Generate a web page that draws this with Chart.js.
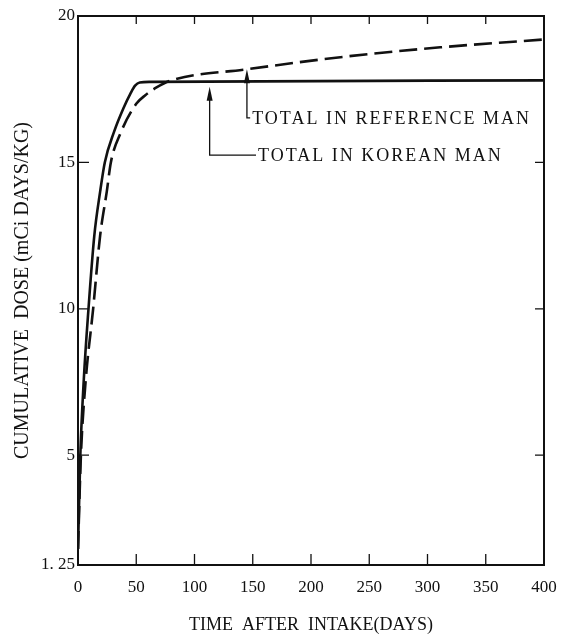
<!DOCTYPE html>
<html>
<head>
<meta charset="utf-8">
<script src="https://cdn.jsdelivr.net/npm/chart.js@4/dist/chart.umd.min.js"></script>
<style>
  html, body { margin: 0; padding: 0; background: #fff; }
  #dose-chart { display: block; }
</style>
</head>
<body>
<canvas id="dose-chart" width="569" height="636"></canvas>
<script>
// Số liệu
const koreanDays = [0, 2, 5, 9, 14, 19, 23, 31, 39, 45, 49, 53, 62, 400];
const koreanDose = [1.8, 5, 7.6, 10, 12.5, 14, 15, 16.05, 16.85, 17.35, 17.62, 17.73, 17.75, 17.8];

const referenceDays = [0, 2.5, 6.5, 13, 19, 24.7, 28.2, 36.5, 50, 58, 67, 78.5, 145, 231, 311, 400];
const referenceDose = [1.8, 5, 7.5, 10, 12.5, 14, 15, 16, 17, 17.3, 17.55, 17.78, 18.18, 18.62, 18.93, 19.2];

const xTicks = [0, 50, 100, 150, 200, 250, 300, 350, 400];
const yTicks = [1.25, 5, 10, 15, 20];
const yTickLabels = ['1. 25', '5', '10', '15', '20'];

const annotationTexts = ['TOTAL IN REFERENCE MAN', 'TOTAL IN KOREAN MAN'];
const annotationDays = [145, 113];      // vị trí mũi tên
const annotationTips = [18.18, 17.58];  // đầu mũi tên
const annotationElbows = [16.52, 15.25];
const annotationTextDays = [149.5, 154.5];

const INK = '#111';
const SERIF = "'Liberation Serif', 'Times New Roman', serif";

function toPoints(days, values) {
    return days.map((d, i) => ({ x: d, y: values[i] }));
}

// Khung, vạch chia bên trong và chú thích mũi tên
const framePlugin = {
    id: 'frame',
    afterDatasetsDraw(chart) {
        const { ctx, chartArea: a, scales: { x, y } } = chart;
        ctx.save();
        ctx.strokeStyle = INK;
        ctx.lineWidth = 2;
        ctx.strokeRect(a.left, a.top, a.right - a.left, a.bottom - a.top);

        ctx.lineWidth = 1.3;
        ctx.beginPath();
        xTicks.forEach(v => {
            if (v === 0 || v === 400) return;
            const px = x.getPixelForValue(v);
            ctx.moveTo(px, a.bottom);
            ctx.lineTo(px, a.bottom - 11);
            ctx.moveTo(px, a.top);
            ctx.lineTo(px, a.top + 8);
        });
        yTicks.forEach(v => {
            if (v === 20) return;
            const py = y.getPixelForValue(v);
            ctx.moveTo(a.left, py);
            ctx.lineTo(a.left + 11, py);
            if (v !== 1.25) {
                ctx.moveTo(a.right, py);
                ctx.lineTo(a.right - 9, py);
            }
        });
        ctx.stroke();

        ctx.font = '18px ' + SERIF;
        ctx.letterSpacing = '2px';
        ctx.textBaseline = 'middle';
        ctx.fillStyle = INK;
        annotationTexts.forEach((text, i) => {
            const px = x.getPixelForValue(annotationDays[i]);
            const tip = y.getPixelForValue(annotationTips[i]);
            const elbow = y.getPixelForValue(annotationElbows[i]);
            const tx = x.getPixelForValue(annotationTextDays[i]);
            ctx.lineWidth = 1.3;
            ctx.beginPath();
            ctx.moveTo(px, tip + 6);
            ctx.lineTo(px, elbow);
            ctx.lineTo(tx - 2, elbow);
            ctx.stroke();
            ctx.beginPath();
            ctx.moveTo(px, tip);
            ctx.lineTo(px - 3, tip + 14);
            ctx.lineTo(px + 3, tip + 14);
            ctx.closePath();
            ctx.fill();
            ctx.fillText(text, tx, elbow + 1);
        });
        ctx.restore();
    }
};

const ctx = document.getElementById('dose-chart').getContext('2d');

new Chart(ctx, {
    type: 'line',
    data: {
        datasets: [
            {
                label: 'Total in Korean man',
                data: toPoints(koreanDays, koreanDose),
                borderColor: INK,
                borderWidth: 2.6,
                pointRadius: 0,
                fill: false,
                cubicInterpolationMode: 'monotone'
            },
            {
                label: 'Total in reference man',
                data: toPoints(referenceDays, referenceDose),
                borderColor: INK,
                borderWidth: 2.6,
                borderDash: [18, 7],
                pointRadius: 0,
                fill: false,
                cubicInterpolationMode: 'monotone'
            }
        ]
    },
    options: {
        responsive: false,
        devicePixelRatio: 1,
        animation: false,
        layout: {
            padding: { top: 16, right: 25, left: 0, bottom: 0 }
        },
        scales: {
            x: {
                type: 'linear',
                min: 0,
                max: 400,
                afterBuildTicks: s => { s.ticks = xTicks.map(v => ({ value: v })); },
                afterFit: s => { s.height = 71; },
                grid: { display: false, drawTicks: false },
                border: { display: false },
                ticks: {
                    autoSkip: false,
                    maxRotation: 0,
                    padding: 12,
                    color: INK,
                    font: { family: SERIF, size: 17 }
                },
                title: {
                    display: true,
                    text: 'TIME  AFTER  INTAKE(DAYS)',
                    color: INK,
                    font: { family: SERIF, size: 18 },
                    padding: { top: 0, bottom: 0 }
                }
            },
            y: {
                type: 'linear',
                min: 1.25,
                max: 20,
                afterBuildTicks: s => { s.ticks = yTicks.map(v => ({ value: v })); },
                afterFit: s => { s.width = 78; },
                grid: { display: false, drawTicks: false },
                border: { display: false },
                ticks: {
                    autoSkip: false,
                    padding: 3,
                    color: INK,
                    font: { family: SERIF, size: 17 },
                    callback: v => yTickLabels[yTicks.indexOf(v)]
                },
                title: {
                    display: true,
                    text: 'CUMULATIVE  DOSE (mCi DAYS/KG)',
                    color: INK,
                    font: { family: SERIF, size: 20 },
                    padding: { top: 11, bottom: 0 }
                }
            }
        },
        plugins: {
            legend: { display: false },
            tooltip: { enabled: false }
        }
    },
    plugins: [framePlugin]
});
</script>
</body>
</html>
